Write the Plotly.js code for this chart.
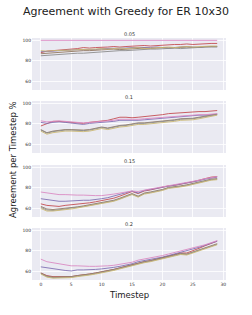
<!DOCTYPE html>
<html><head><meta charset="utf-8">
<script src="https://cdn.plot.ly/plotly-3.0.1.min.js"></script>
<style>html,body{margin:0;padding:0;background:#fff}#c{width:252px;height:315px}</style>
</head><body><div id="c"></div>
<script>
const timesteps = Array.from({length:30},(_, i)=>i);
const panelTitles = ["0.05","0.1","0.15","0.2"];
const seriesNames = ["red","purple","brown","pink","gray","olive"];
const seriesColors = ["#C44E52","#8172B3","#937860","#DA8BC3","#8C8C8C","#CCB974"];

// Panel 0.05
const p1_red    = [88,89.5,90,90.5,91,91,92,93,92.5,93,93,93.5,94,93.5,94,94.5,95,95,94.5,95,95.5,95.5,96,96,96.5,96,96.5,97,97,97];
const p1_purple = [89,89,89.5,90,90,90.5,91,91,91.5,91,92,92,92.5,92,92.5,93,93,92.5,93,93.5,93,92.5,93,93.5,94,93.5,93,94,94,94];
const p1_brown  = [87,87.5,88,88.5,89,89,89.5,90,90,90.5,90.5,91,91.5,91,91.5,92,92,92.5,92,92.5,93,92.5,93,93,93.5,93,93.5,94,94,94];
const p1_pink   = [100,100,100,100,100,100,100,100,100,100,100,100,100,100,100,100,100,100,100,100,100,100,100,100,100,100,100,100,100,100];
const p1_gray   = [85,85.5,86,86.5,86.5,87,87.5,87.5,88,88.5,89,89,89.5,90,90,90.5,91,91,91.5,91.5,92,92,92.5,92,92.5,93,93,93.5,93.5,93.5];
const p1_olive  = [90,89.5,90,90,90.5,90.5,91,91,91.5,91.5,92,91.5,92,92.5,92,92.5,93,92,92.5,93,93,93.5,93,93.5,94,93.5,94,94,94.5,94.5];

// Panel 0.1
const p2_red    = [78,80.5,82.5,82.5,82,81.5,81,80.5,81.5,82,83,83.5,85,86.5,86.5,86,86.5,87,87.5,88,89,90,90.5,91,91.5,91.5,92,92,92.5,93];
const p2_purple = [81.5,80.5,81.5,82,81.5,81,80,79.5,80.5,81,81.5,81.5,82.5,83.5,83.5,83,83.5,84,84.5,85,85.5,86.5,87,87.5,88,88,88.5,88.5,89,89.5];
const p2_brown  = [74.5,71.5,73,74,74.5,74.5,74,74,74.5,75.5,77,76,77.5,78.5,79,80,81,81,81.5,82,82.5,83,84,85,85,85.5,86.5,87.5,88.5,89.5];
const p2_pink   = [83,82,82.5,83,82.5,82,81.5,81,81.5,82,82.5,82.5,83.5,84.5,84.5,84,84.5,85,85.5,86,86.5,87,87.5,88,88.5,88.5,89,89,89.5,90];
const p2_gray   = [74,71,72.5,73.5,74,74,73.5,73.5,74,75,76.5,75.5,77,78,78.5,79.5,80.5,80.5,81,81.5,82,82.5,83.5,84.5,84.5,85,86,87,88,89];
const p2_olive  = [73,70,71.5,72.5,73,73,72.5,72.5,73,74,75.5,74.5,76,77,77.5,78.5,79.5,79.5,80,80.5,81,81.5,82.5,83.5,83.5,84,85,86,87,88.5];

// Panel 0.15
const p3_red    = [64.5,63,62.5,62,63,63.5,64,64.5,65.5,66.5,67.5,68.5,70,72,74,76.5,74.5,77,78,79.5,80.5,82,82.5,83.5,84.5,86,87.5,89,90.5,91];
const p3_purple = [69.5,68.5,67.5,67,67,67.5,68,68,68,68.5,69.5,70.5,72,73.5,75,77,75,77.5,78.5,79.5,80.5,82,82.5,83.5,84.5,85.5,87,88.5,89.5,90.5];
const p3_brown  = [62,59.5,59,59.5,60,61,61.5,62.5,63.5,64.5,65.5,66.5,68,70,72,74.5,72,75,76,77,78.5,80.5,81,82,83,84.5,86,87.5,88.5,89];
const p3_pink   = [76,75,74,73.5,73.5,73,73,73,72.5,72.5,72.5,73,74,75,76,77,76.5,78,79,80,81,82.5,83,84,85,86,87.5,89,90,91];
const p3_gray   = [61,58.5,58,58.5,59.5,60.5,61,62,63,64,65,66,67.5,69.5,71.5,74,71.5,74.5,75.5,76.5,78,80,80.5,81.5,82.5,84,85.5,87,88,88.5];
const p3_olive  = [60,57.5,57.5,58,59,59.5,60.5,61.5,62.5,63.5,64.5,65.5,67,69,71,73.5,71,74,75,76,77.5,79.5,80,81,82,83.5,85,86.5,87.5,88];

// Panel 0.2
const p4_red    = [58.5,56,55,55,54.5,55,56,56.5,57.5,58.5,59.5,60.5,62,63.5,65,66.5,68.5,69.5,70.5,72,73.5,75,76.5,78,78,80,82.5,85,87.5,89.5];
const p4_purple = [64.5,63.5,62.5,61.5,61,60.5,61.5,61.5,61.5,62,62.5,63,64,65,66,67.5,69.5,70.5,71.5,72.5,74,75.5,77,78.5,80,81.5,83.5,85.5,87.5,89.5];
const p4_brown  = [58.5,55.5,54.5,54.5,54.5,55,56,56.5,57.5,58.5,59.5,60.5,62,63.5,65,66.5,68.5,69.5,70.5,72,73.5,74.5,76,77.5,77,79,81,83,85,87];
const p4_pink   = [72,69.5,68.5,67.5,66.5,65.5,65.5,65,65,65,65,65.5,66,67,68,69,71,72,73,74,75.5,77,78.5,80,81,82.5,84.5,86,88,90];
const p4_gray   = [58,55,54,54,54,54.5,55.5,56,57,58,59,60,61.5,63,64.5,66,68,69,70,71.5,73,74,75.5,77,76.5,78.5,80.5,82.5,84.5,86.5];
const p4_olive  = [57.5,54.5,53.5,53.5,53.5,54,55,55.5,56.5,57.5,58.5,59.5,61,62.5,64,65.5,67.5,68.5,69.5,71,72.5,73.5,75,76.5,76,78,80,82,84,86];

const panels = [
  [p1_red,p1_purple,p1_brown,p1_pink,p1_gray,p1_olive],
  [p2_red,p2_purple,p2_brown,p2_pink,p2_gray,p2_olive],
  [p3_red,p3_purple,p3_brown,p3_pink,p3_gray,p3_olive],
  [p4_red,p4_purple,p4_brown,p4_pink,p4_gray,p4_olive]
];
const xTicks = [0,5,10,15,20,25,30];
const yTicks = [60,80,100];

const W=252, H=315;
const left=32, right=226;
const tops=[38,101,165,228], ph=52;
const FONT="DejaVu Sans";

const traces=[]; const layout={
  width:W,height:H,margin:{l:0,r:0,t:0,b:0},
  paper_bgcolor:"#fff",plot_bgcolor:"#EAEAF2",showlegend:false,
  font:{family:FONT,color:"#262626"},
  annotations:[], 
};
panels.forEach((ser,pi)=>{
  const ax = pi===0?"":String(pi+1);
  ser.forEach((ys,si)=>{
    traces.push({x:timesteps,y:ys,type:"scatter",mode:"lines",name:seriesNames[si],
      xaxis:"x"+ax,yaxis:"y"+ax,line:{color:seriesColors[si],width:0.9},hoverinfo:"skip"});
  });
  const top=tops[pi], bot=top+ph;
  layout["xaxis"+ax]={domain:[left/W,right/W],range:[-1.45,30.45],tickvals:xTicks,
    showticklabels:pi===3,tickfont:{size:4.5,color:"#333"},ticks:"",showgrid:true,gridcolor:"#fff",gridwidth:0.8,
    zeroline:false,showline:false,anchor:"y"+ax,fixedrange:true,ticklen:0};
  layout["yaxis"+ax]={domain:[1-bot/H,1-top/H],range:[51.7,102.3],tickvals:yTicks,
    tickfont:{size:4.5,color:"#333"},ticks:"",showgrid:true,gridcolor:"#fff",gridwidth:0.8,
    zeroline:false,showline:false,anchor:"x"+ax,fixedrange:true};
  layout.annotations.push({text:panelTitles[pi],xref:"paper",yref:"paper",x:(left+right)/2/W,y:1-(top-4)/H,
    showarrow:false,font:{size:5,color:"#333"},xanchor:"center",yanchor:"middle"});
});
layout.annotations.push({text:"Agreement with Greedy for ER 10x30",xref:"paper",yref:"paper",x:126/W,y:1-12/H,
  showarrow:false,font:{size:11,color:"#222"},xanchor:"center",yanchor:"middle"});
layout.annotations.push({text:"Timestep",xref:"paper",yref:"paper",x:(left+right)/2/W,y:1-295/H,
  showarrow:false,font:{size:8.5,color:"#222"},xanchor:"center",yanchor:"middle"});
layout.annotations.push({text:"Agreement per Timestep %",xref:"paper",yref:"paper",x:13/W,y:1-160/H,textangle:-90,
  showarrow:false,font:{size:8.5,color:"#222"},xanchor:"center",yanchor:"middle"});
Plotly.newPlot("c",traces,layout,{staticPlot:true,displayModeBar:false});
</script></body></html>
